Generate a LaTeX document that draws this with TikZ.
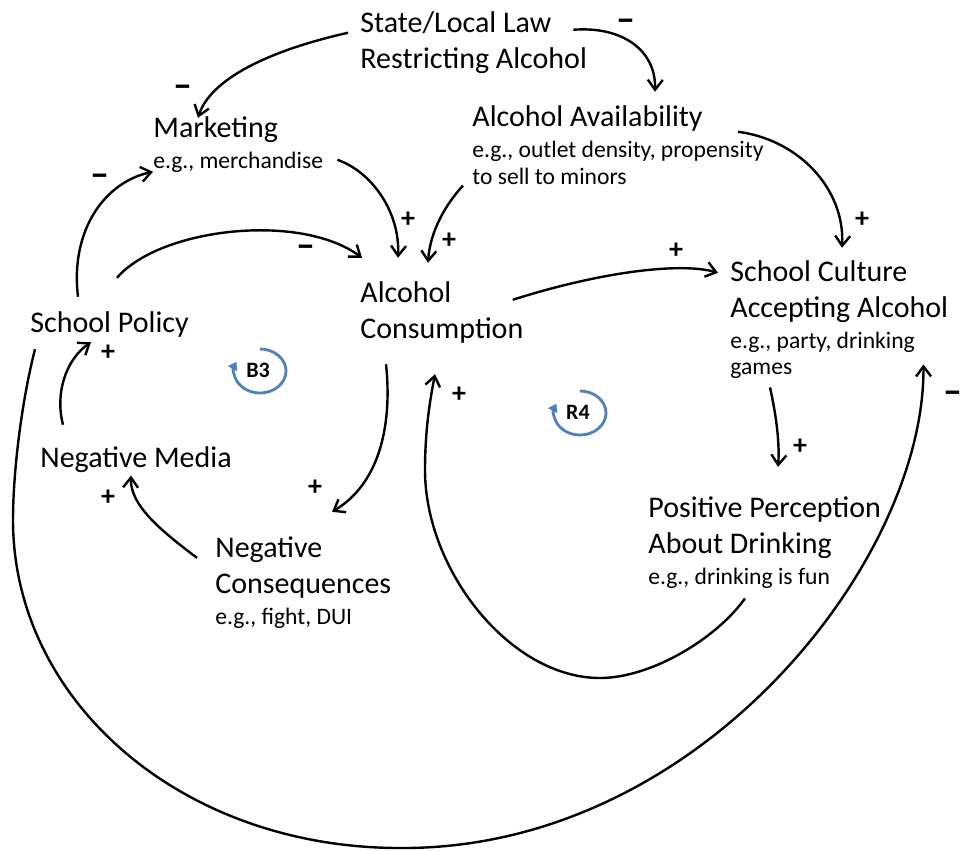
\documentclass[tikz,border=0pt]{standalone}
\usepackage{fontspec}
\setmainfont{Carlito}
\usetikzlibrary{arrows.meta,calc}
\definecolor{loopblue}{RGB}{79,129,189}
\newcommand{\cldmain}[1]{\baselineskip=18pt\hbox{\fontsize{15}{18}\selectfont #1}}
\newcommand{\cldexf}[1]{\baselineskip=15.5pt\hbox{\fontsize{11.8}{13}\selectfont #1}}
\newcommand{\cldexn}[1]{\baselineskip=13pt\hbox{\fontsize{11.8}{13}\selectfont #1}}
\begin{document}
\begin{tikzpicture}[x=0.5pt,y=-0.5pt,
  cnode/.style={inner sep=0pt, anchor=base west},
  conn/.style={line width=1.2pt,-{Straight Barb[length=5pt,width=7.5pt]}},
  sign/.style={font=\fontsize{14}{16}\selectfont\bfseries, inner sep=0pt},
  negsign/.style={font=\fontsize{19}{20}\selectfont\bfseries, inner sep=0pt, text height=10.8pt, text depth=0pt},
  looplabel/.style={font=\fontsize{11}{13}\selectfont\bfseries, inner sep=0pt},
  loopc/.style={draw=loopblue, line width=1.4pt, -{Triangle[length=4pt,width=5pt]}}]
\useasboundingbox (0,0) rectangle (961,850);

% concept nodes
\node[cnode] (law) at (360,33) {\vtop{\cldmain{State/Local Law}\cldmain{Restricting Alcohol}}};
\node[cnode] (mkt) at (153,138) {\vtop{\cldmain{Marketing}\cldexf{e.g., merchandise}}};
\node[cnode] (avail) at (472,127) {\vtop{\cldmain{Alcohol Availability}\cldexf{e.g., outlet density, propensity}\cldexn{to sell to minors}}};
\node[cnode] (cons) at (360,302) {\vtop{\cldmain{Alcohol}\cldmain{Consumption}}};
\node[cnode] (culture) at (730,281) {\vtop{\cldmain{School Culture}\cldmain{Accepting Alcohol}\cldexf{e.g., party, drinking}\cldexn{games}}};
\node[cnode] (policy) at (30,332) {\vtop{\cldmain{School Policy}}};
\node[cnode] (media) at (40,467) {\vtop{\cldmain{Negative Media}}};
\node[cnode] (conseq) at (215,557) {\vtop{\cldmain{Negative}\cldmain{Consequences}\cldexf{e.g., fight, DUI}}};
\node[cnode] (percep) at (648,517) {\vtop{\cldmain{Positive Perception}\cldmain{About Drinking}\cldexf{e.g., drinking is fun}}};

% connectors
\draw[conn] ($(law.north west)+(-12,21)$) .. controls (280,48) and (212,75) .. ($(mkt.north west)+(45,1)$);
\draw[conn] ($(law.north east)+(-14,18)$) .. controls (622,26) and (656,50) .. ($(avail.north west)+(183,-14)$);
\draw[conn] ($(mkt.north east)+(14,43)$) .. controls (372,172) and (400,212) .. ($(cons.north west)+(38,-23)$);
\draw[conn] ($(avail.south west)+(-9,1)$) .. controls (445,205) and (430,232) .. ($(cons.north west)+(68,-18)$);
\draw[conn] ($(avail.north west)+(266,26)$) .. controls (800,140) and (845,190) .. ($(culture.north west)+(112,-12)$);
\draw[conn] ($(policy.north west)+(48,-14)$) .. controls (70,230) and (105,182) .. ($(mkt.north west)+(0,55)$);
\draw[conn] ($(policy.north west)+(87,-33)$) .. controls (160,228) and (300,212) .. ($(cons.north west)+(2,-23)$);
\draw[conn] ($(cons.north east)+(-11,19)$) .. controls (600,272) and (680,262) .. ($(culture.north west)+(-12,13)$);
\draw[conn] ($(cons.south west)+(26,21)$) .. controls (392,420) and (382,482) .. ($(conseq.north west)+(117,-24)$);
\draw[conn] ($(conseq.north west)+(-18,22)$) .. controls (160,530) and (130,505) .. ($(media.south west)+(91,3)$);
\draw[conn] ($(media.north west)+(23,-21)$) .. controls (55,395) and (65,360) .. ($(policy.south west)+(61,5)$);
\draw[conn] ($(culture.south west)+(40,9)$) .. controls (775,410) and (780,440) .. ($(percep.north west)+(130,-29)$);
\draw[conn] ($(percep.south west)+(97,10)$) .. controls (715,640) and (650,678) .. (600,678)
   .. controls (510,678) and (425,570) .. (425,470)
   .. controls (425,430) and (430,400) .. ($(cons.south west)+(75,31)$);
\draw[conn] ($(policy.south west)+(5,12)$) .. controls (22,400) and (13,470) .. (13,520)
   .. controls (13,700) and (180,848) .. (400,848)
   .. controls (700,850) and (925,560) .. ($(culture.south east)+(-25,-14)$);

% polarity signs
\node[negsign] (s1) at (183,87) {–};
\node[negsign] (s2) at (626,21) {–};
\node[negsign] (s3) at (100,176) {–};
\node[negsign] (s4) at (306,247) {–};
\node[sign] (s5) at (408,220) {+};
\node[sign] (s6) at (449,241) {+};
\node[sign] (s7) at (862,220) {+};
\node[sign] (s8) at (676,251) {+};
\node[sign] (s9) at (800,447) {+};
\node[negsign] (s10) at (953,393) {–};
\node[sign] (s11) at (459,395) {+};
\node[sign] (s12) at (315,488) {+};
\node[sign] (s13) at (108,498) {+};
\node[sign] (s14) at (108,353) {+};

% loop markers
\node[looplabel] (b3) at (258,370) {B3};
\node[looplabel] (r4) at (578,412) {R4};
\draw[loopc] ($(b3)+(2,-21)$) arc[start angle=90, end angle=-205, x radius=13pt, y radius=11pt];
\draw[loopc] ($(r4)+(2,-21)$) arc[start angle=90, end angle=-205, x radius=13pt, y radius=11pt];
\end{tikzpicture}
\end{document}
